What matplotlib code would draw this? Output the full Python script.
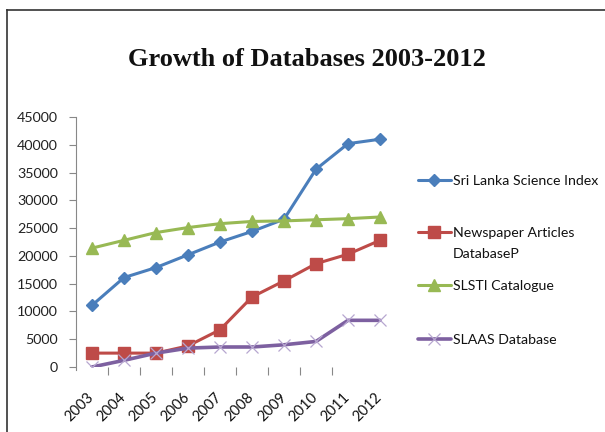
import matplotlib
matplotlib.use("Agg")
import matplotlib.pyplot as plt
from matplotlib.lines import Line2D

years = ["2003", "2004", "2005", "2006", "2007", "2008", "2009", "2010", "2011", "2012"]
slsi = [11100, 16100, 17900, 20200, 22500, 24400, 26600, 35600, 40200, 41000]
newspaper = [2500, 2500, 2500, 3800, 6700, 12600, 15500, 18600, 20300, 22800]
slsti = [21400, 22800, 24200, 25100, 25800, 26200, 26300, 26500, 26700, 27000]
slaas = [0, 1200, 2500, 3400, 3600, 3600, 4000, 4600, 8400, 8400]
title = "Growth of Databases 2003-2012"
labels = ["Sri Lanka Science Index", "Newspaper Articles", "SLSTI Catalogue", "SLAAS Database"]
label2_second_line = "DatabaseP"
yticks = [0, 5000, 10000, 15000, 20000, 25000, 30000, 35000, 40000, 45000]

W, H = 605, 432
fig = plt.figure(figsize=(W / 100, H / 100), dpi=100)
fig.patch.set_facecolor("white")

# outer frame (left and top edges visible)
fig.add_artist(Line2D([7 / W, 7 / W], [0, 1 - 10 / H], transform=fig.transFigure, color="#333333", lw=1.2))
fig.add_artist(Line2D([7 / W, 1], [1 - 10 / H, 1 - 10 / H], transform=fig.transFigure, color="#333333", lw=1.2))

ax = fig.add_axes([76 / W, 1 - 367 / H, 320 / W, 250 / H])
x = list(range(len(years)))

styles = [
    dict(color="#4A7EBB", marker="D", ms=6.5, lw=2.2, mec="#4A7EBB", mfc="#4A7EBB"),
    dict(color="#BE4B48", marker="s", ms=8, lw=2.2, mec="#BE4B48", mfc="#BE4B48"),
    dict(color="#98B954", marker="^", ms=8.5, lw=2.2, mec="#98B954", mfc="#98B954"),
    dict(color="#7D60A0", marker="x", ms=9, lw=2.6, mec="#B7A6D0", mew=0.9),
]
series = [slsi, newspaper, slsti, slaas]
handles = []
for vals, st in zip(series, styles):
    h, = ax.plot(x, vals, solid_joinstyle="round", solid_capstyle="round", **st)
    handles.append(h)

ax.set_xlim(-0.5, len(years) - 0.5)
ax.set_ylim(0, 45000)
ax.set_yticks(yticks)
ax.set_yticklabels([str(v) for v in yticks], fontsize=10.3, family="Lato", color="#222222")
ax.tick_params(axis="y", length=5, width=0.8, color="#888888", pad=8)

ax.set_xticks(x)
ax.set_xticklabels(years, rotation=45, ha="right", va="center", rotation_mode="anchor",
                   fontsize=10.5, family="Lato", color="#111111")
ax.tick_params(axis="x", which="major", length=0, pad=20)
ax.set_xticks([i + 0.5 for i in range(len(years) - 2)], minor=True)
ax.tick_params(axis="x", which="minor", length=6, width=0.8, color="#888888", direction="out")

for s in ["top", "right", "bottom"]:
    ax.spines[s].set_visible(False)
ax.spines["left"].set_color("#888888")
ax.spines["left"].set_linewidth(0.8)
ax.spines["left"].set_bounds(-500, 45000)
ax.patch.set_alpha(0)

fig.text(307 / W, 1 - 60 / H, title, ha="center", va="center", fontsize=19,
         family="Liberation Serif", fontweight="bold", color="#111111")

# legend entries positioned individually
ycenters = [181, 233, 286, 340]
fs = 10.2
for h, lab, yc in zip(handles, labels, ycenters):
    lg = fig.legend([h], [lab], loc="center left", bbox_to_anchor=(418 / W, 1 - yc / H),
                    frameon=False, handlelength=2.3, handletextpad=0.2,
                    borderpad=0, borderaxespad=0, prop={"family": "Lato", "size": fs})
    for t in lg.get_texts():
        t.set_color("#111111")
fig.text(453 / W, 1 - 254 / H, label2_second_line, ha="left", va="center",
         fontsize=fs, family="Lato", color="#111111")

fig.savefig("out.png", dpi=100)
